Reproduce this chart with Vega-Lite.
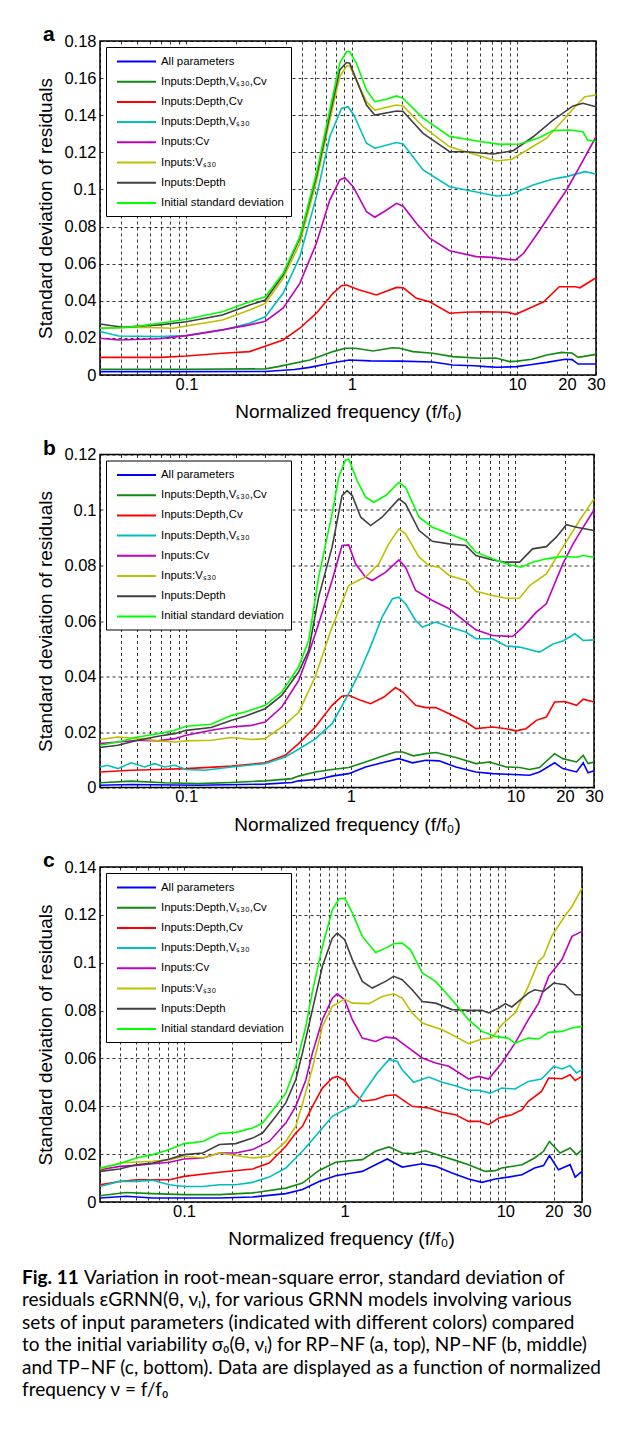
{
  "$schema": "https://vega.github.io/schema/vega-lite/v6.json",
  "padding": {"left": 22, "top": 23, "right": 5, "bottom": 5},
  "background": "white",
  "bounds": "flush",
  "spacing": 79.5,
  "resolve": {"scale": {"x": "independent", "y": "independent"}, "legend": {"color": "independent"}},
  "config": {
    "font": "Liberation Sans",
    "view": {"stroke": "black", "strokeWidth": 1.5},
    "axis": {
      "labelFont": "Liberation Sans", "labelFontSize": 16.5, "labelColor": "black",
      "titleFont": "Liberation Sans", "titleFontSize": 19, "titleFontWeight": "normal", "titleColor": "black",
      "grid": true, "gridColor": "black", "gridDash": [3, 3], "gridWidth": 0.8, "gridOpacity": 1,
      "domain": false, "ticks": false
    },
    "axisX": {"labelPadding": 1, "titlePadding": 10},
    "axisY": {"labelPadding": 4, "titlePadding": 8},
    "legend": {
      "orient": "top-left", "offset": 6, "fillColor": "white", "strokeColor": "black",
      "padding": 7, "symbolType": "M-3,0H3", "symbolSize": 169, "symbolStrokeWidth": 2,
      "symbolOffset": 16, "labelOffset": 17, "labelFontSize": 11.4, "labelFont": "Liberation Sans",
      "labelColor": "black", "rowPadding": 7.2, "labelLimit": 300
    },
    "title": {"font": "Liberation Sans", "fontSize": 21, "fontWeight": "bold", "color": "black", "anchor": "start", "frame": "group", "offset": 0, "baseline": "alphabetic"}
  },
  "datasets": {
    "a": [
      {"s":"All","x":0.03,"y":0.0018},{"s":"All","x":0.1,"y":0.0018},{"s":"All","x":0.3,"y":0.0019},{"s":"All","x":0.45,"y":0.003},{"s":"All","x":0.557,"y":0.0041},{"s":"All","x":0.77,"y":0.0066},{"s":"All","x":0.965,"y":0.0081},{"s":"All","x":1.3,"y":0.0076},{"s":"All","x":1.95,"y":0.0075},{"s":"All","x":3.09,"y":0.007},{"s":"All","x":4.08,"y":0.0054},{"s":"All","x":5.5,"y":0.005},{"s":"All","x":6.5,"y":0.0045},{"s":"All","x":7.5,"y":0.0042},{"s":"All","x":9.9,"y":0.0045},{"s":"All","x":12,"y":0.0055},{"s":"All","x":15.1,"y":0.0068},{"s":"All","x":19.5,"y":0.0085},{"s":"All","x":21.5,"y":0.0083},{"s":"All","x":23.4,"y":0.0059},{"s":"All","x":30,"y":0.0059},
      {"s":"DVC","x":0.03,"y":0.0031},{"s":"DVC","x":0.1,"y":0.0031},{"s":"DVC","x":0.3,"y":0.0033},{"s":"DVC","x":0.358,"y":0.0045},{"s":"DVC","x":0.557,"y":0.0081},{"s":"DVC","x":0.77,"y":0.0126},{"s":"DVC","x":0.915,"y":0.0144},{"s":"DVC","x":1.05,"y":0.0144},{"s":"DVC","x":1.346,"y":0.0129},{"s":"DVC","x":1.77,"y":0.0147},{"s":"DVC","x":1.95,"y":0.0144},{"s":"DVC","x":2.34,"y":0.0126},{"s":"DVC","x":3.09,"y":0.0117},{"s":"DVC","x":4.08,"y":0.0099},{"s":"DVC","x":5.95,"y":0.009},{"s":"DVC","x":7.44,"y":0.0092},{"s":"DVC","x":9.0,"y":0.0072},{"s":"DVC","x":10,"y":0.0075},{"s":"DVC","x":12.3,"y":0.0085},{"s":"DVC","x":15.1,"y":0.0108},{"s":"DVC","x":18.6,"y":0.0122},{"s":"DVC","x":20,"y":0.012},{"s":"DVC","x":21.5,"y":0.0118},{"s":"DVC","x":23.4,"y":0.0095},{"s":"DVC","x":30,"y":0.0111},
      {"s":"DC","x":0.03,"y":0.0095},{"s":"DC","x":0.07,"y":0.0095},{"s":"DC","x":0.1,"y":0.0102},{"s":"DC","x":0.165,"y":0.0117},{"s":"DC","x":0.241,"y":0.0126},{"s":"DC","x":0.384,"y":0.0189},{"s":"DC","x":0.485,"y":0.0252},{"s":"DC","x":0.611,"y":0.0333},{"s":"DC","x":0.77,"y":0.044},{"s":"DC","x":0.866,"y":0.0481},{"s":"DC","x":0.929,"y":0.0485},{"s":"DC","x":1.1,"y":0.046},{"s":"DC","x":1.41,"y":0.0431},{"s":"DC","x":1.865,"y":0.0472},{"s":"DC","x":2.05,"y":0.047},{"s":"DC","x":2.46,"y":0.0413},{"s":"DC","x":2.96,"y":0.0395},{"s":"DC","x":3.91,"y":0.0333},{"s":"DC","x":4.81,"y":0.0338},{"s":"DC","x":6.35,"y":0.0341},{"s":"DC","x":8.77,"y":0.0338},{"s":"DC","x":9.8,"y":0.0327},{"s":"DC","x":12.25,"y":0.0365},{"s":"DC","x":14.5,"y":0.0395},{"s":"DC","x":18,"y":0.0476},{"s":"DC","x":22.6,"y":0.0476},{"s":"DC","x":24,"y":0.047},{"s":"DC","x":30,"y":0.0524},
      {"s":"DV","x":0.03,"y":0.0234},{"s":"DV","x":0.039,"y":0.021},{"s":"DV","x":0.0686,"y":0.0207},{"s":"DV","x":0.1,"y":0.0212},{"s":"DV","x":0.165,"y":0.0243},{"s":"DV","x":0.241,"y":0.0279},{"s":"DV","x":0.3,"y":0.0314},{"s":"DV","x":0.384,"y":0.044},{"s":"DV","x":0.485,"y":0.0638},{"s":"DV","x":0.611,"y":0.0961},{"s":"DV","x":0.736,"y":0.1284},{"s":"DV","x":0.866,"y":0.1437},{"s":"DV","x":0.95,"y":0.1446},{"s":"DV","x":1.03,"y":0.14},{"s":"DV","x":1.227,"y":0.1249},{"s":"DV","x":1.378,"y":0.1222},{"s":"DV","x":1.865,"y":0.1253},{"s":"DV","x":2.045,"y":0.1245},{"s":"DV","x":2.7,"y":0.1105},{"s":"DV","x":3.91,"y":0.1015},{"s":"DV","x":4.94,"y":0.0997},{"s":"DV","x":7.5,"y":0.0965},{"s":"DV","x":9.0,"y":0.097},{"s":"DV","x":12.5,"y":0.1024},{"s":"DV","x":16.5,"y":0.1056},{"s":"DV","x":19.9,"y":0.1069},{"s":"DV","x":25.7,"y":0.1096},{"s":"DV","x":30,"y":0.1083},
      {"s":"C","x":0.03,"y":0.0198},{"s":"C","x":0.039,"y":0.0189},{"s":"C","x":0.0686,"y":0.0195},{"s":"C","x":0.1,"y":0.0212},{"s":"C","x":0.165,"y":0.0243},{"s":"C","x":0.241,"y":0.027},{"s":"C","x":0.3,"y":0.029},{"s":"C","x":0.384,"y":0.036},{"s":"C","x":0.485,"y":0.0494},{"s":"C","x":0.611,"y":0.071},{"s":"C","x":0.736,"y":0.0943},{"s":"C","x":0.846,"y":0.1051},{"s":"C","x":0.907,"y":0.1063},{"s":"C","x":1.02,"y":0.1015},{"s":"C","x":1.227,"y":0.088},{"s":"C","x":1.378,"y":0.085},{"s":"C","x":1.6,"y":0.0885},{"s":"C","x":1.865,"y":0.0925},{"s":"C","x":2.045,"y":0.091},{"s":"C","x":2.46,"y":0.0818},{"s":"C","x":2.96,"y":0.0737},{"s":"C","x":3.91,"y":0.067},{"s":"C","x":5.66,"y":0.0638},{"s":"C","x":7.05,"y":0.0634},{"s":"C","x":8.77,"y":0.0623},{"s":"C","x":9.8,"y":0.062},{"s":"C","x":10.95,"y":0.0656},{"s":"C","x":13.7,"y":0.078},{"s":"C","x":16.5,"y":0.0889},{"s":"C","x":19.9,"y":0.0997},{"s":"C","x":23.9,"y":0.1123},{"s":"C","x":30,"y":0.1284},
      {"s":"V","x":0.03,"y":0.0252},{"s":"V","x":0.052,"y":0.0257},{"s":"V","x":0.083,"y":0.0252},{"s":"V","x":0.1,"y":0.0264},{"s":"V","x":0.165,"y":0.0296},{"s":"V","x":0.241,"y":0.035},{"s":"V","x":0.3,"y":0.0386},{"s":"V","x":0.384,"y":0.0521},{"s":"V","x":0.485,"y":0.071},{"s":"V","x":0.611,"y":0.1042},{"s":"V","x":0.736,"y":0.1374},{"s":"V","x":0.846,"y":0.1608},{"s":"V","x":0.929,"y":0.1665},{"s":"V","x":0.972,"y":0.1665},{"s":"V","x":1.227,"y":0.1473},{"s":"V","x":1.378,"y":0.1428},{"s":"V","x":1.865,"y":0.1455},{"s":"V","x":2.045,"y":0.145},{"s":"V","x":2.7,"y":0.1338},{"s":"V","x":3.91,"y":0.123},{"s":"V","x":5.95,"y":0.118},{"s":"V","x":7.5,"y":0.1153},{"s":"V","x":9.25,"y":0.1162},{"s":"V","x":11.95,"y":0.1222},{"s":"V","x":15.1,"y":0.1276},{"s":"V","x":19,"y":0.1374},{"s":"V","x":22.4,"y":0.1446},{"s":"V","x":25.7,"y":0.15},{"s":"V","x":30,"y":0.1509},
      {"s":"D","x":0.03,"y":0.0275},{"s":"D","x":0.041,"y":0.0257},{"s":"D","x":0.0686,"y":0.027},{"s":"D","x":0.1,"y":0.0287},{"s":"D","x":0.165,"y":0.0323},{"s":"D","x":0.241,"y":0.0377},{"s":"D","x":0.3,"y":0.0404},{"s":"D","x":0.384,"y":0.0539},{"s":"D","x":0.485,"y":0.0737},{"s":"D","x":0.611,"y":0.1069},{"s":"D","x":0.736,"y":0.1401},{"s":"D","x":0.846,"y":0.1644},{"s":"D","x":0.929,"y":0.1684},{"s":"D","x":0.972,"y":0.168},{"s":"D","x":1.227,"y":0.1455},{"s":"D","x":1.378,"y":0.1401},{"s":"D","x":1.865,"y":0.1423},{"s":"D","x":2.045,"y":0.142},{"s":"D","x":2.7,"y":0.1302},{"s":"D","x":3.91,"y":0.1203},{"s":"D","x":4.94,"y":0.1203},{"s":"D","x":7.17,"y":0.1191},{"s":"D","x":9.47,"y":0.1209},{"s":"D","x":12.5,"y":0.1284},{"s":"D","x":16.5,"y":0.1374},{"s":"D","x":21.8,"y":0.145},{"s":"D","x":25,"y":0.1464},{"s":"D","x":30,"y":0.1446},
      {"s":"Init","x":0.03,"y":0.0252},{"s":"Init","x":0.04,"y":0.0255},{"s":"Init","x":0.05,"y":0.0262},{"s":"Init","x":0.0686,"y":0.0279},{"s":"Init","x":0.1,"y":0.03},{"s":"Init","x":0.165,"y":0.0341},{"s":"Init","x":0.241,"y":0.0395},{"s":"Init","x":0.3,"y":0.0422},{"s":"Init","x":0.384,"y":0.0548},{"s":"Init","x":0.485,"y":0.0745},{"s":"Init","x":0.611,"y":0.1087},{"s":"Init","x":0.736,"y":0.1428},{"s":"Init","x":0.846,"y":0.168},{"s":"Init","x":0.929,"y":0.1742},{"s":"Init","x":0.972,"y":0.1742},{"s":"Init","x":1.067,"y":0.168},{"s":"Init","x":1.227,"y":0.1536},{"s":"Init","x":1.378,"y":0.1473},{"s":"Init","x":1.62,"y":0.1486},{"s":"Init","x":1.865,"y":0.1504},{"s":"Init","x":2.045,"y":0.1491},{"s":"Init","x":2.7,"y":0.1384},{"s":"Init","x":3.91,"y":0.1286},{"s":"Init","x":5.95,"y":0.1258},{"s":"Init","x":7.86,"y":0.1243},{"s":"Init","x":10.4,"y":0.1245},{"s":"Init","x":13.7,"y":0.128},{"s":"Init","x":16.5,"y":0.1317},{"s":"Init","x":20.8,"y":0.132},{"s":"Init","x":25,"y":0.1311},{"s":"Init","x":26.7,"y":0.1266},{"s":"Init","x":30,"y":0.1258}
    ],
    "b": [
      {"s":"All","x":0.03,"y":0.0008},{"s":"All","x":0.0464,"y":0.0011},{"s":"All","x":0.118,"y":0.0008},{"s":"All","x":0.302,"y":0.0012},{"s":"All","x":0.439,"y":0.0018},{"s":"All","x":0.482,"y":0.0024},{"s":"All","x":0.638,"y":0.003},{"s":"All","x":0.77,"y":0.0041},{"s":"All","x":0.972,"y":0.005},{"s":"All","x":1.23,"y":0.0074},{"s":"All","x":1.55,"y":0.0089},{"s":"All","x":1.96,"y":0.0104},{"s":"All","x":2.37,"y":0.0089},{"s":"All","x":2.85,"y":0.0098},{"s":"All","x":3.44,"y":0.0096},{"s":"All","x":4.35,"y":0.0074},{"s":"All","x":5.75,"y":0.0056},{"s":"All","x":7.27,"y":0.005},{"s":"All","x":8.77,"y":0.0048},{"s":"All","x":12.2,"y":0.0044},{"s":"All","x":14.0,"y":0.0056},{"s":"All","x":17.3,"y":0.0089},{"s":"All","x":19.4,"y":0.0068},{"s":"All","x":23.5,"y":0.0056},{"s":"All","x":25.8,"y":0.0089},{"s":"All","x":27.6,"y":0.0053},{"s":"All","x":30,"y":0.006},
      {"s":"DVC","x":0.03,"y":0.0017},{"s":"DVC","x":0.0464,"y":0.0023},{"s":"DVC","x":0.0741,"y":0.0017},{"s":"DVC","x":0.118,"y":0.0014},{"s":"DVC","x":0.189,"y":0.0018},{"s":"DVC","x":0.302,"y":0.0024},{"s":"DVC","x":0.439,"y":0.0032},{"s":"DVC","x":0.482,"y":0.0041},{"s":"DVC","x":0.609,"y":0.0056},{"s":"DVC","x":0.77,"y":0.0065},{"s":"DVC","x":0.972,"y":0.0072},{"s":"DVC","x":1.23,"y":0.0092},{"s":"DVC","x":1.55,"y":0.0113},{"s":"DVC","x":1.87,"y":0.0128},{"s":"DVC","x":2.07,"y":0.0128},{"s":"DVC","x":2.4,"y":0.0114},{"s":"DVC","x":2.85,"y":0.0122},{"s":"DVC","x":3.3,"y":0.0126},{"s":"DVC","x":4.35,"y":0.0108},{"s":"DVC","x":5.75,"y":0.0086},{"s":"DVC","x":6.95,"y":0.0092},{"s":"DVC","x":8.77,"y":0.0074},{"s":"DVC","x":10.6,"y":0.0072},{"s":"DVC","x":12.2,"y":0.0065},{"s":"DVC","x":14.0,"y":0.0072},{"s":"DVC","x":17.3,"y":0.0122},{"s":"DVC","x":19.4,"y":0.0104},{"s":"DVC","x":23.5,"y":0.0092},{"s":"DVC","x":25.8,"y":0.0116},{"s":"DVC","x":27.6,"y":0.0086},{"s":"DVC","x":30,"y":0.0092},
      {"s":"DC","x":0.03,"y":0.0056},{"s":"DC","x":0.0464,"y":0.0062},{"s":"DC","x":0.0675,"y":0.0065},{"s":"DC","x":0.1,"y":0.0068},{"s":"DC","x":0.189,"y":0.0077},{"s":"DC","x":0.302,"y":0.0089},{"s":"DC","x":0.4,"y":0.0116},{"s":"DC","x":0.482,"y":0.0158},{"s":"DC","x":0.609,"y":0.0218},{"s":"DC","x":0.77,"y":0.0296},{"s":"DC","x":0.885,"y":0.0329},{"s":"DC","x":0.972,"y":0.0332},{"s":"DC","x":1.15,"y":0.0314},{"s":"DC","x":1.32,"y":0.0302},{"s":"DC","x":1.59,"y":0.0326},{"s":"DC","x":1.87,"y":0.036},{"s":"DC","x":2.07,"y":0.0344},{"s":"DC","x":2.48,"y":0.0296},{"s":"DC","x":2.85,"y":0.0288},{"s":"DC","x":3.28,"y":0.0288},{"s":"DC","x":3.96,"y":0.0266},{"s":"DC","x":5.0,"y":0.0236},{"s":"DC","x":5.75,"y":0.0212},{"s":"DC","x":7.27,"y":0.0218},{"s":"DC","x":8.77,"y":0.0212},{"s":"DC","x":10.1,"y":0.0204},{"s":"DC","x":11.6,"y":0.0212},{"s":"DC","x":13.4,"y":0.0242},{"s":"DC","x":15.4,"y":0.0254},{"s":"DC","x":17.3,"y":0.0308},{"s":"DC","x":19.9,"y":0.031},{"s":"DC","x":23.5,"y":0.0296},{"s":"DC","x":25.8,"y":0.0318},{"s":"DC","x":30,"y":0.0308},
      {"s":"DV","x":0.03,"y":0.0074},{"s":"DV","x":0.0334,"y":0.008},{"s":"DV","x":0.0385,"y":0.0068},{"s":"DV","x":0.0464,"y":0.0089},{"s":"DV","x":0.056,"y":0.0074},{"s":"DV","x":0.0644,"y":0.0086},{"s":"DV","x":0.0741,"y":0.0074},{"s":"DV","x":0.0854,"y":0.008},{"s":"DV","x":0.1,"y":0.0065},{"s":"DV","x":0.13,"y":0.0062},{"s":"DV","x":0.189,"y":0.0074},{"s":"DV","x":0.302,"y":0.0086},{"s":"DV","x":0.4,"y":0.011},{"s":"DV","x":0.482,"y":0.0138},{"s":"DV","x":0.609,"y":0.0175},{"s":"DV","x":0.77,"y":0.023},{"s":"DV","x":0.972,"y":0.0338},{"s":"DV","x":1.12,"y":0.041},{"s":"DV","x":1.29,"y":0.0494},{"s":"DV","x":1.55,"y":0.0614},{"s":"DV","x":1.79,"y":0.068},{"s":"DV","x":1.96,"y":0.0686},{"s":"DV","x":2.15,"y":0.0662},{"s":"DV","x":2.48,"y":0.0602},{"s":"DV","x":2.72,"y":0.0578},{"s":"DV","x":3.28,"y":0.0596},{"s":"DV","x":3.96,"y":0.0578},{"s":"DV","x":5.0,"y":0.056},{"s":"DV","x":5.75,"y":0.0536},{"s":"DV","x":7.27,"y":0.0536},{"s":"DV","x":8.77,"y":0.051},{"s":"DV","x":10.6,"y":0.0506},{"s":"DV","x":14.0,"y":0.0488},{"s":"DV","x":16.8,"y":0.0516},{"s":"DV","x":19.4,"y":0.0528},{"s":"DV","x":23.0,"y":0.0554},{"s":"DV","x":25.8,"y":0.053},{"s":"DV","x":30,"y":0.0532},
      {"s":"C","x":0.03,"y":0.0158},{"s":"C","x":0.0385,"y":0.0164},{"s":"C","x":0.051,"y":0.017},{"s":"C","x":0.0675,"y":0.0168},{"s":"C","x":0.0854,"y":0.0176},{"s":"C","x":0.1,"y":0.0188},{"s":"C","x":0.142,"y":0.0206},{"s":"C","x":0.189,"y":0.0218},{"s":"C","x":0.25,"y":0.0224},{"s":"C","x":0.302,"y":0.0236},{"s":"C","x":0.381,"y":0.029},{"s":"C","x":0.482,"y":0.0385},{"s":"C","x":0.555,"y":0.0482},{"s":"C","x":0.638,"y":0.059},{"s":"C","x":0.77,"y":0.0746},{"s":"C","x":0.885,"y":0.0872},{"s":"C","x":0.972,"y":0.0874},{"s":"C","x":1.07,"y":0.0806},{"s":"C","x":1.23,"y":0.0758},{"s":"C","x":1.35,"y":0.0746},{"s":"C","x":1.63,"y":0.0776},{"s":"C","x":1.96,"y":0.082},{"s":"C","x":2.15,"y":0.0794},{"s":"C","x":2.48,"y":0.071},{"s":"C","x":3.13,"y":0.0674},{"s":"C","x":3.96,"y":0.0644},{"s":"C","x":5.0,"y":0.0596},{"s":"C","x":5.75,"y":0.0568},{"s":"C","x":7.27,"y":0.0548},{"s":"C","x":9.6,"y":0.0544},{"s":"C","x":11.1,"y":0.0578},{"s":"C","x":13.4,"y":0.0632},{"s":"C","x":15.4,"y":0.0662},{"s":"C","x":19.4,"y":0.0806},{"s":"C","x":22.4,"y":0.0878},{"s":"C","x":25.8,"y":0.0938},{"s":"C","x":30,"y":0.1},
      {"s":"V","x":0.03,"y":0.0173},{"s":"V","x":0.0385,"y":0.0182},{"s":"V","x":0.051,"y":0.0176},{"s":"V","x":0.0675,"y":0.0168},{"s":"V","x":0.0854,"y":0.0164},{"s":"V","x":0.1,"y":0.0168},{"s":"V","x":0.142,"y":0.017},{"s":"V","x":0.189,"y":0.018},{"s":"V","x":0.25,"y":0.0173},{"s":"V","x":0.302,"y":0.0176},{"s":"V","x":0.381,"y":0.0218},{"s":"V","x":0.482,"y":0.027},{"s":"V","x":0.609,"y":0.04},{"s":"V","x":0.77,"y":0.0578},{"s":"V","x":0.972,"y":0.0728},{"s":"V","x":1.12,"y":0.0748},{"s":"V","x":1.23,"y":0.0758},{"s":"V","x":1.48,"y":0.0806},{"s":"V","x":1.7,"y":0.0878},{"s":"V","x":1.96,"y":0.0932},{"s":"V","x":2.15,"y":0.0914},{"s":"V","x":2.6,"y":0.083},{"s":"V","x":2.99,"y":0.08},{"s":"V","x":3.44,"y":0.0794},{"s":"V","x":3.96,"y":0.0764},{"s":"V","x":5.0,"y":0.0746},{"s":"V","x":5.75,"y":0.0707},{"s":"V","x":7.27,"y":0.0692},{"s":"V","x":8.77,"y":0.0682},{"s":"V","x":10.6,"y":0.0683},{"s":"V","x":12.2,"y":0.0728},{"s":"V","x":15.4,"y":0.077},{"s":"V","x":19.4,"y":0.0866},{"s":"V","x":24.5,"y":0.0962},{"s":"V","x":30,"y":0.104},
      {"s":"D","x":0.03,"y":0.0144},{"s":"D","x":0.0385,"y":0.0152},{"s":"D","x":0.051,"y":0.017},{"s":"D","x":0.0675,"y":0.0185},{"s":"D","x":0.0854,"y":0.0194},{"s":"D","x":0.1,"y":0.0206},{"s":"D","x":0.142,"y":0.0216},{"s":"D","x":0.189,"y":0.0242},{"s":"D","x":0.228,"y":0.0257},{"s":"D","x":0.302,"y":0.0284},{"s":"D","x":0.381,"y":0.0332},{"s":"D","x":0.482,"y":0.0416},{"s":"D","x":0.555,"y":0.0494},{"s":"D","x":0.638,"y":0.0686},{"s":"D","x":0.77,"y":0.0866},{"s":"D","x":0.885,"y":0.1052},{"s":"D","x":0.95,"y":0.107},{"s":"D","x":1.02,"y":0.1052},{"s":"D","x":1.15,"y":0.0974},{"s":"D","x":1.32,"y":0.0944},{"s":"D","x":1.55,"y":0.0974},{"s":"D","x":1.96,"y":0.104},{"s":"D","x":2.15,"y":0.1022},{"s":"D","x":2.6,"y":0.0926},{"s":"D","x":3.13,"y":0.0887},{"s":"D","x":3.96,"y":0.0878},{"s":"D","x":5.0,"y":0.0872},{"s":"D","x":5.75,"y":0.0836},{"s":"D","x":7.27,"y":0.082},{"s":"D","x":8.77,"y":0.0812},{"s":"D","x":10.6,"y":0.0812},{"s":"D","x":12.7,"y":0.086},{"s":"D","x":15.4,"y":0.0868},{"s":"D","x":17.7,"y":0.0902},{"s":"D","x":20.4,"y":0.0947},{"s":"D","x":23.5,"y":0.0938},{"s":"D","x":30,"y":0.0926},
      {"s":"Init","x":0.03,"y":0.0152},{"s":"Init","x":0.0385,"y":0.0164},{"s":"Init","x":0.051,"y":0.0182},{"s":"Init","x":0.0675,"y":0.0194},{"s":"Init","x":0.0854,"y":0.0206},{"s":"Init","x":0.1,"y":0.0221},{"s":"Init","x":0.142,"y":0.0228},{"s":"Init","x":0.189,"y":0.026},{"s":"Init","x":0.228,"y":0.0272},{"s":"Init","x":0.302,"y":0.0296},{"s":"Init","x":0.381,"y":0.0344},{"s":"Init","x":0.482,"y":0.0434},{"s":"Init","x":0.555,"y":0.053},{"s":"Init","x":0.638,"y":0.0758},{"s":"Init","x":0.77,"y":0.0986},{"s":"Init","x":0.845,"y":0.1118},{"s":"Init","x":0.928,"y":0.118},{"s":"Init","x":0.972,"y":0.1183},{"s":"Init","x":1.093,"y":0.1106},{"s":"Init","x":1.23,"y":0.1046},{"s":"Init","x":1.38,"y":0.1028},{"s":"Init","x":1.63,"y":0.1052},{"s":"Init","x":1.96,"y":0.11},{"s":"Init","x":2.15,"y":0.1082},{"s":"Init","x":2.6,"y":0.0974},{"s":"Init","x":3.13,"y":0.0938},{"s":"Init","x":3.96,"y":0.0914},{"s":"Init","x":5.0,"y":0.089},{"s":"Init","x":5.75,"y":0.0848},{"s":"Init","x":7.27,"y":0.0824},{"s":"Init","x":8.77,"y":0.0806},{"s":"Init","x":10.8,"y":0.0794},{"s":"Init","x":12.7,"y":0.0812},{"s":"Init","x":15.4,"y":0.0824},{"s":"Init","x":19.4,"y":0.0833},{"s":"Init","x":23.5,"y":0.083},{"s":"Init","x":25.8,"y":0.0836},{"s":"Init","x":30,"y":0.083}
    ],
    "c": [
      {"s":"All","x":0.03,"y":0.0017},{"s":"All","x":0.0436,"y":0.0024},{"s":"All","x":0.0639,"y":0.0017},{"s":"All","x":0.1,"y":0.0017},{"s":"All","x":0.166,"y":0.0017},{"s":"All","x":0.267,"y":0.0021},{"s":"All","x":0.43,"y":0.0035},{"s":"All","x":0.546,"y":0.0052},{"s":"All","x":0.693,"y":0.0086},{"s":"All","x":0.879,"y":0.011},{"s":"All","x":1.116,"y":0.0121},{"s":"All","x":1.287,"y":0.0128},{"s":"All","x":1.557,"y":0.0156},{"s":"All","x":1.84,"y":0.018},{"s":"All","x":2.28,"y":0.0146},{"s":"All","x":3.04,"y":0.016},{"s":"All","x":3.68,"y":0.0149},{"s":"All","x":4.66,"y":0.0121},{"s":"All","x":5.9,"y":0.0096},{"s":"All","x":7.15,"y":0.0082},{"s":"All","x":8.66,"y":0.0096},{"s":"All","x":10.4,"y":0.0104},{"s":"All","x":12.7,"y":0.0114},{"s":"All","x":15.2,"y":0.0142},{"s":"All","x":17.3,"y":0.0152},{"s":"All","x":18.8,"y":0.0194},{"s":"All","x":21.4,"y":0.0135},{"s":"All","x":25.3,"y":0.0156},{"s":"All","x":27.2,"y":0.0104},{"s":"All","x":30,"y":0.0128},
      {"s":"DVC","x":0.03,"y":0.0026},{"s":"DVC","x":0.0436,"y":0.004},{"s":"DVC","x":0.0639,"y":0.0035},{"s":"DVC","x":0.1,"y":0.0031},{"s":"DVC","x":0.166,"y":0.0031},{"s":"DVC","x":0.267,"y":0.0038},{"s":"DVC","x":0.43,"y":0.0058},{"s":"DVC","x":0.546,"y":0.0079},{"s":"DVC","x":0.693,"y":0.0132},{"s":"DVC","x":0.879,"y":0.0166},{"s":"DVC","x":1.0,"y":0.017},{"s":"DVC","x":1.287,"y":0.0177},{"s":"DVC","x":1.557,"y":0.0212},{"s":"DVC","x":1.885,"y":0.023},{"s":"DVC","x":2.28,"y":0.0205},{"s":"DVC","x":2.63,"y":0.0202},{"s":"DVC","x":3.18,"y":0.0214},{"s":"DVC","x":4.04,"y":0.0191},{"s":"DVC","x":4.89,"y":0.0174},{"s":"DVC","x":5.9,"y":0.0156},{"s":"DVC","x":7.5,"y":0.0128},{"s":"DVC","x":8.66,"y":0.0131},{"s":"DVC","x":9.5,"y":0.0142},{"s":"DVC","x":12.7,"y":0.0156},{"s":"DVC","x":15.2,"y":0.0184},{"s":"DVC","x":17.3,"y":0.0212},{"s":"DVC","x":18.8,"y":0.0253},{"s":"DVC","x":21.9,"y":0.0205},{"s":"DVC","x":25.3,"y":0.0226},{"s":"DVC","x":27.8,"y":0.0198},{"s":"DVC","x":30,"y":0.0219},
      {"s":"DC","x":0.03,"y":0.0072},{"s":"DC","x":0.0397,"y":0.0086},{"s":"DC","x":0.0504,"y":0.0093},{"s":"DC","x":0.0812,"y":0.0093},{"s":"DC","x":0.1,"y":0.0107},{"s":"DC","x":0.166,"y":0.0124},{"s":"DC","x":0.267,"y":0.0138},{"s":"DC","x":0.339,"y":0.0163},{"s":"DC","x":0.43,"y":0.0233},{"s":"DC","x":0.496,"y":0.0288},{"s":"DC","x":0.546,"y":0.0316},{"s":"DC","x":0.63,"y":0.04},{"s":"DC","x":0.727,"y":0.0476},{"s":"DC","x":0.838,"y":0.0518},{"s":"DC","x":0.9,"y":0.0525},{"s":"DC","x":1.0,"y":0.0508},{"s":"DC","x":1.116,"y":0.0462},{"s":"DC","x":1.287,"y":0.0421},{"s":"DC","x":1.557,"y":0.0428},{"s":"DC","x":1.797,"y":0.0444},{"s":"DC","x":2.07,"y":0.0448},{"s":"DC","x":2.63,"y":0.04},{"s":"DC","x":3.34,"y":0.0393},{"s":"DC","x":4.04,"y":0.0375},{"s":"DC","x":4.89,"y":0.0365},{"s":"DC","x":5.9,"y":0.0337},{"s":"DC","x":6.82,"y":0.0337},{"s":"DC","x":7.87,"y":0.0323},{"s":"DC","x":9.1,"y":0.0351},{"s":"DC","x":10.98,"y":0.0365},{"s":"DC","x":12.7,"y":0.0386},{"s":"DC","x":13.9,"y":0.0421},{"s":"DC","x":16.8,"y":0.0462},{"s":"DC","x":18.6,"y":0.0518},{"s":"DC","x":22.5,"y":0.0515},{"s":"DC","x":25.3,"y":0.0532},{"s":"DC","x":27.2,"y":0.0508},{"s":"DC","x":30,"y":0.0525},
      {"s":"DV","x":0.03,"y":0.0065},{"s":"DV","x":0.0397,"y":0.0086},{"s":"DV","x":0.0504,"y":0.0086},{"s":"DV","x":0.0639,"y":0.0091},{"s":"DV","x":0.0812,"y":0.0072},{"s":"DV","x":0.1,"y":0.0065},{"s":"DV","x":0.131,"y":0.0065},{"s":"DV","x":0.166,"y":0.0072},{"s":"DV","x":0.21,"y":0.0072},{"s":"DV","x":0.267,"y":0.0082},{"s":"DV","x":0.339,"y":0.0104},{"s":"DV","x":0.43,"y":0.0142},{"s":"DV","x":0.546,"y":0.0212},{"s":"DV","x":0.63,"y":0.026},{"s":"DV","x":0.727,"y":0.0309},{"s":"DV","x":0.838,"y":0.0358},{"s":"DV","x":1.0,"y":0.0386},{"s":"DV","x":1.17,"y":0.0407},{"s":"DV","x":1.35,"y":0.0469},{"s":"DV","x":1.595,"y":0.0539},{"s":"DV","x":1.885,"y":0.0595},{"s":"DV","x":2.12,"y":0.0588},{"s":"DV","x":2.28,"y":0.0553},{"s":"DV","x":2.69,"y":0.05},{"s":"DV","x":3.34,"y":0.0522},{"s":"DV","x":4.04,"y":0.05},{"s":"DV","x":4.89,"y":0.0486},{"s":"DV","x":5.9,"y":0.0467},{"s":"DV","x":6.82,"y":0.0467},{"s":"DV","x":8.06,"y":0.0455},{"s":"DV","x":9.5,"y":0.0476},{"s":"DV","x":11.5,"y":0.0472},{"s":"DV","x":13.9,"y":0.0504},{"s":"DV","x":16.8,"y":0.0514},{"s":"DV","x":20,"y":0.0567},{"s":"DV","x":22.5,"y":0.0556},{"s":"DV","x":25.3,"y":0.057},{"s":"DV","x":27.8,"y":0.0539},{"s":"DV","x":30,"y":0.0553},
      {"s":"C","x":0.03,"y":0.0135},{"s":"C","x":0.0397,"y":0.0149},{"s":"C","x":0.0504,"y":0.0153},{"s":"C","x":0.0639,"y":0.016},{"s":"C","x":0.0812,"y":0.0166},{"s":"C","x":0.1,"y":0.018},{"s":"C","x":0.131,"y":0.0184},{"s":"C","x":0.166,"y":0.0205},{"s":"C","x":0.21,"y":0.0205},{"s":"C","x":0.267,"y":0.0219},{"s":"C","x":0.339,"y":0.0253},{"s":"C","x":0.43,"y":0.033},{"s":"C","x":0.496,"y":0.04},{"s":"C","x":0.573,"y":0.051},{"s":"C","x":0.63,"y":0.0623},{"s":"C","x":0.727,"y":0.0762},{"s":"C","x":0.838,"y":0.0852},{"s":"C","x":0.9,"y":0.087},{"s":"C","x":1.0,"y":0.0845},{"s":"C","x":1.116,"y":0.0762},{"s":"C","x":1.287,"y":0.0685},{"s":"C","x":1.557,"y":0.0671},{"s":"C","x":1.797,"y":0.0689},{"s":"C","x":2.07,"y":0.0685},{"s":"C","x":2.51,"y":0.0643},{"s":"C","x":3.04,"y":0.0602},{"s":"C","x":3.68,"y":0.0581},{"s":"C","x":4.45,"y":0.0567},{"s":"C","x":5.9,"y":0.0514},{"s":"C","x":6.82,"y":0.0525},{"s":"C","x":7.87,"y":0.0514},{"s":"C","x":9.5,"y":0.0581},{"s":"C","x":11.5,"y":0.0664},{"s":"C","x":13.9,"y":0.0762},{"s":"C","x":16.1,"y":0.0831},{"s":"C","x":18.6,"y":0.0943},{"s":"C","x":22.5,"y":0.1013},{"s":"C","x":26,"y":0.111},{"s":"C","x":30,"y":0.1131},
      {"s":"V","x":0.03,"y":0.0138},{"s":"V","x":0.0397,"y":0.0163},{"s":"V","x":0.0504,"y":0.0167},{"s":"V","x":0.0639,"y":0.017},{"s":"V","x":0.0812,"y":0.0177},{"s":"V","x":0.1,"y":0.0191},{"s":"V","x":0.131,"y":0.0184},{"s":"V","x":0.166,"y":0.0205},{"s":"V","x":0.21,"y":0.0194},{"s":"V","x":0.267,"y":0.0184},{"s":"V","x":0.339,"y":0.0191},{"s":"V","x":0.43,"y":0.0253},{"s":"V","x":0.496,"y":0.0316},{"s":"V","x":0.546,"y":0.041},{"s":"V","x":0.63,"y":0.056},{"s":"V","x":0.727,"y":0.0734},{"s":"V","x":0.838,"y":0.0818},{"s":"V","x":1.0,"y":0.0848},{"s":"V","x":1.116,"y":0.0831},{"s":"V","x":1.416,"y":0.0829},{"s":"V","x":1.713,"y":0.0859},{"s":"V","x":2.02,"y":0.087},{"s":"V","x":2.28,"y":0.0852},{"s":"V","x":2.63,"y":0.079},{"s":"V","x":3.04,"y":0.0748},{"s":"V","x":4.04,"y":0.072},{"s":"V","x":4.66,"y":0.0699},{"s":"V","x":5.9,"y":0.0662},{"s":"V","x":7.15,"y":0.0681},{"s":"V","x":8.25,"y":0.0685},{"s":"V","x":9.5,"y":0.0741},{"s":"V","x":11.5,"y":0.079},{"s":"V","x":13.9,"y":0.0901},{"s":"V","x":16.1,"y":0.1006},{"s":"V","x":17.3,"y":0.1026},{"s":"V","x":19.4,"y":0.111},{"s":"V","x":23.5,"y":0.1196},{"s":"V","x":26,"y":0.1235},{"s":"V","x":30,"y":0.1312},
      {"s":"D","x":0.03,"y":0.0128},{"s":"D","x":0.0397,"y":0.0138},{"s":"D","x":0.0504,"y":0.0156},{"s":"D","x":0.0639,"y":0.0163},{"s":"D","x":0.0812,"y":0.018},{"s":"D","x":0.1,"y":0.0198},{"s":"D","x":0.131,"y":0.0205},{"s":"D","x":0.166,"y":0.024},{"s":"D","x":0.21,"y":0.0244},{"s":"D","x":0.267,"y":0.0267},{"s":"D","x":0.308,"y":0.0288},{"s":"D","x":0.373,"y":0.0358},{"s":"D","x":0.43,"y":0.0414},{"s":"D","x":0.496,"y":0.0511},{"s":"D","x":0.546,"y":0.0623},{"s":"D","x":0.63,"y":0.0804},{"s":"D","x":0.727,"y":0.0985},{"s":"D","x":0.838,"y":0.1103},{"s":"D","x":0.9,"y":0.1124},{"s":"D","x":1.0,"y":0.1096},{"s":"D","x":1.116,"y":0.1013},{"s":"D","x":1.287,"y":0.0922},{"s":"D","x":1.485,"y":0.0894},{"s":"D","x":1.797,"y":0.0922},{"s":"D","x":2.02,"y":0.0943},{"s":"D","x":2.28,"y":0.0929},{"s":"D","x":2.63,"y":0.0887},{"s":"D","x":3.04,"y":0.0838},{"s":"D","x":3.68,"y":0.0831},{"s":"D","x":4.66,"y":0.0804},{"s":"D","x":5.9,"y":0.0801},{"s":"D","x":7.15,"y":0.0801},{"s":"D","x":7.87,"y":0.079},{"s":"D","x":9.1,"y":0.0811},{"s":"D","x":9.99,"y":0.0829},{"s":"D","x":10.98,"y":0.0815},{"s":"D","x":13.9,"y":0.0873},{"s":"D","x":15.2,"y":0.0887},{"s":"D","x":17.3,"y":0.088},{"s":"D","x":20,"y":0.0915},{"s":"D","x":23.5,"y":0.0908},{"s":"D","x":27.2,"y":0.0866},{"s":"D","x":30,"y":0.0866},
      {"s":"Init","x":0.03,"y":0.0142},{"s":"Init","x":0.0397,"y":0.016},{"s":"Init","x":0.0504,"y":0.0184},{"s":"Init","x":0.0639,"y":0.0198},{"s":"Init","x":0.0812,"y":0.0219},{"s":"Init","x":0.1,"y":0.0244},{"s":"Init","x":0.131,"y":0.0253},{"s":"Init","x":0.166,"y":0.0286},{"s":"Init","x":0.21,"y":0.0291},{"s":"Init","x":0.267,"y":0.0309},{"s":"Init","x":0.308,"y":0.033},{"s":"Init","x":0.373,"y":0.04},{"s":"Init","x":0.43,"y":0.0455},{"s":"Init","x":0.496,"y":0.0567},{"s":"Init","x":0.573,"y":0.0734},{"s":"Init","x":0.63,"y":0.088},{"s":"Init","x":0.727,"y":0.1068},{"s":"Init","x":0.838,"y":0.1221},{"s":"Init","x":0.922,"y":0.1266},{"s":"Init","x":1.0,"y":0.127},{"s":"Init","x":1.116,"y":0.1208},{"s":"Init","x":1.287,"y":0.111},{"s":"Init","x":1.557,"y":0.1043},{"s":"Init","x":1.797,"y":0.1061},{"s":"Init","x":2.02,"y":0.1079},{"s":"Init","x":2.28,"y":0.1082},{"s":"Init","x":2.57,"y":0.1054},{"s":"Init","x":3.04,"y":0.0957},{"s":"Init","x":3.68,"y":0.0922},{"s":"Init","x":4.66,"y":0.0845},{"s":"Init","x":5.9,"y":0.0762},{"s":"Init","x":7.15,"y":0.0713},{"s":"Init","x":8.66,"y":0.0692},{"s":"Init","x":10.4,"y":0.0685},{"s":"Init","x":11.5,"y":0.0664},{"s":"Init","x":13.9,"y":0.0685},{"s":"Init","x":16.1,"y":0.0681},{"s":"Init","x":18.6,"y":0.0709},{"s":"Init","x":22.5,"y":0.0713},{"s":"Init","x":26,"y":0.0727},{"s":"Init","x":30,"y":0.0734}
    ],
    "cap": [
      {"line": 1, "seg": "bold", "t": "Fig. 11"},
      {"line": 1, "seg": "first", "t": "Variation in root-mean-square error, standard deviation of"},
      {"line": 2, "seg": "body", "t": "residuals εGRNN(θ, νᵢ), for various GRNN models involving various"},
      {"line": 3, "seg": "body", "t": "sets of input parameters (indicated with different colors) compared"},
      {"line": 4, "seg": "body", "t": "to the initial variability σ₀(θ, νᵢ) for RP–NF (a, top), NP–NF (b, middle)"},
      {"line": 5, "seg": "body", "t": "and TP–NF (c, bottom). Data are displayed as a function of normalized"},
      {"line": 6, "seg": "body", "t": "frequency ν = f/f₀"}
    ]
  },
  "vconcat": [
    {
      "width": 496, "height": 334,
      "title": {"text": "a", "dx": -57, "dy": 16},
      "data": {"name": "a"},
      "mark": {"type": "line", "strokeWidth": 1.6},
      "encoding": {
        "x": {"field": "x", "type": "quantitative", "scale": {"type": "log", "domain": [0.03, 30], "nice": false},
          "axis": {"values": [0.03,0.04,0.05,0.06,0.07,0.08,0.09,0.1,0.2,0.3,0.4,0.5,0.6,0.7,0.8,0.9,1,2,3,4,5,6,7,8,9,10,20,30], "format": "~g", "labelExpr": "indexof([0.1,1,10,20,30], datum.value) >= 0 ? datum.label : ''", "labelOverlap": false, "labelFlush": false, "title": "Normalized frequency (f/f₀)"}},
        "y": {"field": "y", "type": "quantitative", "scale": {"domain": [0, 0.18], "nice": false, "zero": false},
          "axis": {"values": [0,0.02,0.04,0.06,0.08,0.1,0.12,0.14,0.16,0.18], "format": ".2~f", "labelOverlap": false, "title": "Standard deviation of residuals"}},
        "color": {"field": "s", "type": "nominal",
          "scale": {"domain": ["All","DVC","DC","DV","C","V","D","Init"], "range": ["#0000ff","#108a10","#ff0000","#00bfbf","#bf00bf","#bfbf00","#404040","#00ff00"]},
          "legend": {"title": null, "labelExpr": "datum.label == 'All' ? 'All parameters' : datum.label == 'DVC' ? 'Inputs:Depth,Vₛ₃₀,Cv' : datum.label == 'DC' ? 'Inputs:Depth,Cv' : datum.label == 'DV' ? 'Inputs:Depth,Vₛ₃₀' : datum.label == 'C' ? 'Inputs:Cv' : datum.label == 'V' ? 'Inputs:Vₛ₃₀' : datum.label == 'D' ? 'Inputs:Depth' : 'Initial standard deviation'"}}
      }
    },
    {
      "width": 494, "height": 333,
      "title": {"text": "b", "dx": -57, "dy": 16},
      "data": {"name": "b"},
      "mark": {"type": "line", "strokeWidth": 1.6},
      "encoding": {
        "x": {"field": "x", "type": "quantitative", "scale": {"type": "log", "domain": [0.03, 30], "nice": false},
          "axis": {"values": [0.03,0.04,0.05,0.06,0.07,0.08,0.09,0.1,0.2,0.3,0.4,0.5,0.6,0.7,0.8,0.9,1,2,3,4,5,6,7,8,9,10,20,30], "format": "~g", "labelExpr": "indexof([0.1,1,10,20,30], datum.value) >= 0 ? datum.label : ''", "labelOverlap": false, "labelFlush": false, "title": "Normalized frequency (f/f₀)"}},
        "y": {"field": "y", "type": "quantitative", "scale": {"domain": [0, 0.12], "nice": false, "zero": false},
          "axis": {"values": [0,0.02,0.04,0.06,0.08,0.1,0.12], "format": ".2~f", "labelOverlap": false, "title": "Standard deviation of residuals"}},
        "color": {"field": "s", "type": "nominal",
          "scale": {"domain": ["All","DVC","DC","DV","C","V","D","Init"], "range": ["#0000ff","#108a10","#ff0000","#00bfbf","#bf00bf","#bfbf00","#404040","#00ff00"]},
          "legend": {"title": null, "labelExpr": "datum.label == 'All' ? 'All parameters' : datum.label == 'DVC' ? 'Inputs:Depth,Vₛ₃₀,Cv' : datum.label == 'DC' ? 'Inputs:Depth,Cv' : datum.label == 'DV' ? 'Inputs:Depth,Vₛ₃₀' : datum.label == 'C' ? 'Inputs:Cv' : datum.label == 'V' ? 'Inputs:Vₛ₃₀' : datum.label == 'D' ? 'Inputs:Depth' : 'Initial standard deviation'"}}
      }
    },
    {
      "width": 482, "height": 335,
      "title": {"text": "c", "dx": -57, "dy": 16},
      "data": {"name": "c"},
      "mark": {"type": "line", "strokeWidth": 1.6},
      "encoding": {
        "x": {"field": "x", "type": "quantitative", "scale": {"type": "log", "domain": [0.03, 30], "nice": false},
          "axis": {"values": [0.03,0.04,0.05,0.06,0.07,0.08,0.09,0.1,0.2,0.3,0.4,0.5,0.6,0.7,0.8,0.9,1,2,3,4,5,6,7,8,9,10,20,30], "format": "~g", "labelExpr": "indexof([0.1,1,10,20,30], datum.value) >= 0 ? datum.label : ''", "labelOverlap": false, "labelFlush": false, "title": "Normalized frequency (f/f₀)"}},
        "y": {"field": "y", "type": "quantitative", "scale": {"domain": [0, 0.14], "nice": false, "zero": false},
          "axis": {"values": [0,0.02,0.04,0.06,0.08,0.1,0.12,0.14], "format": ".2~f", "labelOverlap": false, "title": "Standard deviation of residuals"}},
        "color": {"field": "s", "type": "nominal",
          "scale": {"domain": ["All","DVC","DC","DV","C","V","D","Init"], "range": ["#0000ff","#108a10","#ff0000","#00bfbf","#bf00bf","#bfbf00","#404040","#00ff00"]},
          "legend": {"title": null, "labelExpr": "datum.label == 'All' ? 'All parameters' : datum.label == 'DVC' ? 'Inputs:Depth,Vₛ₃₀,Cv' : datum.label == 'DC' ? 'Inputs:Depth,Cv' : datum.label == 'DV' ? 'Inputs:Depth,Vₛ₃₀' : datum.label == 'C' ? 'Inputs:Cv' : datum.label == 'V' ? 'Inputs:Vₛ₃₀' : datum.label == 'D' ? 'Inputs:Depth' : 'Initial standard deviation'"}}
      }
    },
    {
      "width": 480, "height": 112.5,
      "view": {"stroke": null},
      "data": {"name": "cap"},
      "encoding": {"y": {"field": "line", "type": "ordinal", "axis": null, "scale": {"padding": 0}}},
      "layer": [
        {"transform": [{"filter": "datum.seg == 'bold'"}],
         "mark": {"type": "text", "align": "left", "baseline": "middle", "font": "Lato", "fontSize": 19, "fontWeight": "bold", "color": "black", "dx": -78, "dy": -4},
         "encoding": {"x": {"value": 0}, "text": {"field": "t"}}},
        {"transform": [{"filter": "datum.seg == 'first'"}],
         "mark": {"type": "text", "align": "left", "baseline": "middle", "font": "Lato", "fontSize": 19, "color": "black", "dx": -16, "dy": -4},
         "encoding": {"x": {"value": 0}, "text": {"field": "t"}}},
        {"transform": [{"filter": "datum.seg == 'body'"}],
         "mark": {"type": "text", "align": "left", "baseline": "middle", "font": "Lato", "fontSize": 19, "color": "black", "dx": -78, "dy": -4},
         "encoding": {"x": {"value": 0}, "text": {"field": "t"}}}
      ]
    }
  ]
}
